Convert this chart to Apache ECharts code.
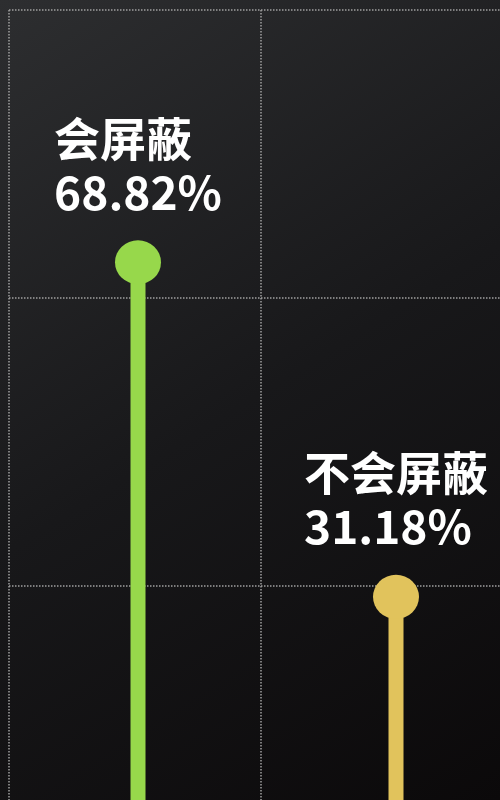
<!DOCTYPE html>
<html>
<head>
<meta charset="utf-8">
<script src="https://cdn.jsdelivr.net/npm/echarts@6/dist/echarts.min.js"></script>
<style>
  html, body { margin: 0; padding: 0; }
  #chart { width: 500px; height: 800px; }
</style>
</head>
<body>
<div id="chart"></div>
<script>
const categories = ['会屏蔽', '不会屏蔽']
const percentValues = [68.82, 31.18]
const colors = ['#97d84b', '#e1c35c']

const chart = echarts.init(document.getElementById('chart'))

const option = {
  backgroundColor: {
    type: 'linear', x: 0, y: 0, x2: 1, y2: 1,
    colorStops: [
      { offset: 0, color: '#2d2e30' },
      { offset: 0.5, color: '#18181a' },
      { offset: 1, color: '#0b090a' }
    ]
  },
  grid: { left: 9, top: 10, width: 516, height: 864, outerBoundsMode: 'none' },
  xAxis: [
    {
      type: 'category',
      data: categories,
      axisLine: { show: false },
      axisTick: { show: false },
      axisLabel: { show: false },
      splitLine: { show: false }
    },
    {
      type: 'value',
      min: 0,
      max: 516 / 252,
      interval: 1,
      axisLine: { show: false },
      axisTick: { show: false },
      axisLabel: { show: false },
      splitLine: { show: true, lineStyle: { color: '#a0a0a0', type: 'dotted', width: 1.5 } }
    }
  ],
  yAxis: {
    type: 'value',
    min: 0,
    max: 97.2,
    interval: 32.4,
    axisLine: { show: false },
    axisTick: { show: false },
    axisLabel: { show: false },
    splitLine: { show: true, lineStyle: { color: '#a0a0a0', type: 'dotted', width: 1.5 } }
  },
  series: [
    {
      type: 'bar',
      barWidth: 15,
      data: percentValues.map((v, i) => ({ value: v, itemStyle: { color: colors[i] } })),
      z: 2
    },
    {
      type: 'scatter',
      symbol: 'circle',
      symbolSize: [46, 44],
      data: percentValues.map((v, i) => ({ value: v, itemStyle: { color: colors[i], opacity: 1 } })),
      z: 3,
      label: {
        show: true,
        position: 'top',
        distance: 22,
        formatter: p => '{n|' + p.name + '}\n{v|' + p.value.toFixed(2) + '%}',
        rich: {
          n: {
            align: 'left',
            color: '#ffffff',
            fontFamily: 'Noto Sans CJK SC',
            fontWeight: 'bold',
            fontSize: 46,
            lineHeight: 56
          },
          v: {
            align: 'left',
            color: '#ffffff',
            fontFamily: 'Noto Sans CJK SC',
            fontWeight: 'bold',
            fontSize: 46,
            lineHeight: 52
          }
        }
      }
    }
  ]
}

chart.setOption(option)
</script>
</body>
</html>
